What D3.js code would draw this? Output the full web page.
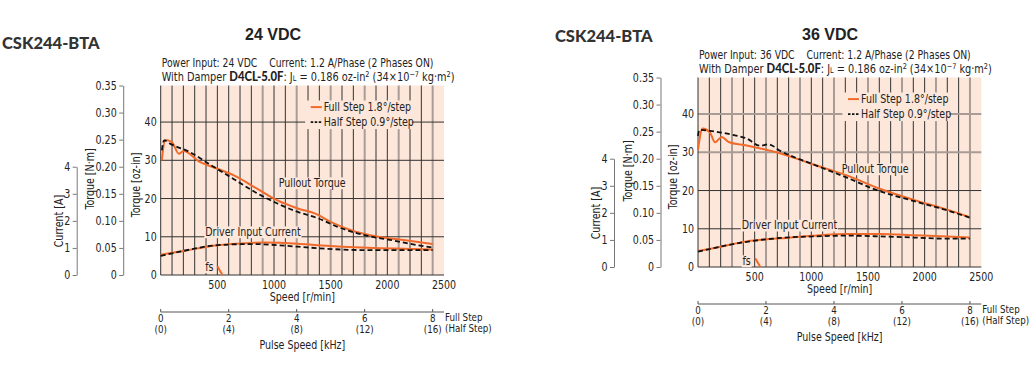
<!DOCTYPE html>
<html>
<head>
<meta charset="utf-8">
<script src="https://cdn.jsdelivr.net/npm/d3@7"></script>
<style>
body { margin: 0; background: #fff; }
svg { display: block; }
</style>
</head>
<body>
<svg id="chart" width="1032" height="375"></svg>
<script>
// ---- data (torque in oz-in, speed in r/min) ----
var speedTicks = [500, 1000, 1500, 2000, 2500];
var ozTicks = [0, 10, 20, 30, 40];
var nmTicks = [0, 0.05, 0.10, 0.15, 0.20, 0.25, 0.30, 0.35];
var ampTicks = [0, 1, 2, 3, 4];
var pulseTicks = [0, 2, 4, 6, 8];
var pulseHalfLabels = ["(0)", "(4)", "(8)", "(12)", "(16)"];

// 24 VDC
var full24Speed  = [10, 40, 100, 160, 200, 350, 500, 650, 850, 1030, 1210, 1360, 1500, 1680, 1920, 2160, 2400];
var full24Torque = [30.0, 35.3, 34.7, 31.7, 32.4, 29.5, 27.8, 26.0, 22.6, 19.5, 17.4, 16.1, 13.9, 11.7, 10.0, 9.1, 8.1];
var half24Speed  = [10, 30, 85, 260, 440, 650, 850, 1030, 1210, 1390, 1560, 1800, 2040, 2270, 2400];
var half24Torque = [32.6, 35.2, 34.3, 32.1, 28.8, 25.0, 21.4, 18.7, 16.5, 14.8, 12.6, 10.4, 9.1, 7.8, 7.2];
var full24CurSpeed = [0, 200, 500, 800, 910, 1210, 1390, 1830, 2400];
var full24Current  = [5.3, 6.3, 7.8, 8.4, 8.5, 8.2, 7.8, 7.1, 6.7];
var half24CurSpeed = [0, 200, 500, 800, 1210, 1390, 1830, 2400];
var half24Current  = [5.0, 6.3, 7.8, 8.1, 7.4, 7.0, 6.5, 6.5];
var fs24Speed = [500, 545];
var fs24Value = [2.3, 0];

// 36 VDC
var full36Speed  = [0, 40, 105, 150, 210, 270, 430, 730, 1020, 1320, 1610, 1910, 2200, 2400];
var full36Torque = [30.6, 36.2, 35.2, 32.6, 34.0, 32.7, 31.8, 29.7, 26.8, 23.9, 20.4, 17.5, 15.0, 13.0];
var half36Speed  = [0, 12, 105, 285, 430, 550, 620, 730, 1020, 1320, 1560, 1910, 2200, 2400];
var half36Torque = [34.3, 35.9, 35.6, 34.7, 33.6, 31.7, 32.1, 30.3, 26.8, 23.3, 20.3, 17.2, 14.8, 12.9];
var full36CurSpeed = [0, 135, 430, 730, 1020, 1320, 1610, 1910, 2200, 2400];
var full36Current  = [4.2, 4.9, 6.7, 7.5, 8.2, 8.6, 8.6, 8.3, 8.0, 7.7];
var half36CurSpeed = [0, 430, 730, 1020, 1320, 1610, 1910, 2200, 2400];
var half36Current  = [4.0, 6.6, 7.6, 8.0, 8.2, 8.0, 7.7, 7.4, 7.4];
var fs36Speed = [505, 550];
var fs36Value = [2.3, 0];

var ozPerNm = 141.612;
var NARROW = "'Liberation Sans Narrow','Arial Narrow','DejaVu Sans Condensed',sans-serif";
var HEAVY = "Lato,'DejaVu Sans',sans-serif";
var ORANGE = "#f06a2c";
var INK = "#222";
var BG = "#fde7da";
var GRAY = "#a99c96";
var SQ = 0.88;   // horizontal squeeze to mimic the condensed face

var svg = d3.select("#chart");

function zip(xs, ys) { return xs.map(function(v, i){ return [v, ys[i]]; }); }

// condensed text placed at (px, py)
function ntext(parent, txt, px, py, size, anchor, rot) {
    return parent.append("text")
        .attr("transform", "translate(" + px + "," + py + ")" + (rot ? " rotate(-90)" : "") + " scale(" + SQ + ",1)")
        .attr("text-anchor", anchor || "start").attr("font-family", NARROW)
        .attr("font-size", size).attr("fill", INK).text(txt);
}

// squeeze a whole text so that it spans the given width
function fitWidth(t, px, py, w) {
    var b = t.node().getBBox();
    t.attr("transform", "translate(" + px + "," + py + ") scale(" + (w / b.width) + ",1)");
}

function drawChart(c) {
    var g = svg.append("g");
    var x = d3.scaleLinear().domain([0, 2500]).range([c.left, c.left + 283.3]);
    var y = d3.scaleLinear().domain([0, 0.35 * ozPerNm]).range([c.zero, c.zero - 189.5]);
    var nm = d3.scaleLinear().domain([0, 0.35]).range(y.range());
    var amp = d3.scaleLinear().domain([0, 4]).range([c.zero, nm(0.2)]);
    var pulse = d3.scaleLinear().domain([0, 8]).range([x(0), x(2400)]);
    var top = y.range()[1];

    // titles
    svg.append("text").attr("x", c.cskX).attr("y", c.cskY)
       .attr("font-family", HEAVY).attr("font-weight", 900).attr("font-size", 16.5)
       .attr("fill", "#333").text("CSK244-BTA");
    svg.append("text").attr("x", c.titleX).attr("y", 40)
       .attr("font-family", "'Liberation Sans',Arial,sans-serif").attr("font-weight", "bold")
       .attr("font-size", 16).attr("fill", INK).text(c.volt);

    // header
    var h1 = g.append("text").attr("font-family", NARROW).attr("font-size", 12).attr("fill", INK);
    h1.append("tspan").text("Power Input: " + c.volt);
    h1.append("tspan").attr("dx", 14).text("Current: 1.2 A/Phase (2 Phases ON)");
    fitWidth(h1, c.left + 1, top - 18.5, 272);
    var h2 = g.append("text").attr("font-family", NARROW).attr("font-size", 12).attr("fill", INK);
    h2.append("tspan").text("With Damper ");
    h2.append("tspan").attr("font-family", HEAVY).attr("font-weight", 900).attr("font-size", 12.5)
      .text("D4CL-5.0F");
    h2.append("tspan").text(": J");
    h2.append("tspan").attr("font-size", 8).text("L");
    h2.append("tspan").text(" = 0.186 oz-in");
    h2.append("tspan").attr("font-size", 8).attr("dy", -4.5).text("2");
    h2.append("tspan").attr("dy", 4.5).text(" (34\u00d710");
    h2.append("tspan").attr("font-size", 8).attr("dy", -4.5).text("\u22127");
    h2.append("tspan").attr("dy", 4.5).text(" kg\u00b7m");
    h2.append("tspan").attr("font-size", 8).attr("dy", -4.5).text("2");
    h2.append("tspan").attr("dy", 4.5).text(")");
    fitWidth(h2, c.left + 1, top - 4.5, 293);

    // plot background + grid
    g.append("rect").attr("x", x(0)).attr("y", top)
     .attr("width", x(2500) - x(0)).attr("height", c.zero - top).attr("fill", BG);
    var vgrid = d3.range(100, 2500, 100);
    function isGray(d) { return d % 300 === 0 && d >= c.grayFrom; }
    g.selectAll(".vg").data(vgrid).enter().append("line")
     .attr("x1", function(d){ return x(d); }).attr("x2", function(d){ return x(d); })
     .attr("y1", top).attr("y2", c.zero)
     .attr("stroke", function(d){ return isGray(d) ? GRAY : "#333"; })
     .attr("stroke-width", function(d){ return isGray(d) ? 2 : 1; });
    g.selectAll(".hg").data(ozTicks.slice(1)).enter().append("line")
     .attr("x1", x(0)).attr("x2", x(2500))
     .attr("y1", function(d){ return y(d); }).attr("y2", function(d){ return y(d); })
     .attr("stroke", function(d){ return c.grayOz.indexOf(d) >= 0 ? GRAY : "#333"; })
     .attr("stroke-width", function(d){ return c.grayOz.indexOf(d) >= 0 ? 2 : 1; });
    g.append("line").attr("x1", x(0)).attr("x2", x(0)).attr("y1", top).attr("y2", c.zero)
     .attr("stroke", "#333");
    g.append("line").attr("x1", x(0)).attr("x2", x(2500)).attr("y1", c.zero).attr("y2", c.zero)
     .attr("stroke", "#333");

    // legend (masks the grid)
    var lg = g.append("g");
    lg.append("rect").attr("x", c.left + 144.5).attr("y", top + 15)
      .attr("width", 106.5).attr("height", 28.6).attr("fill", BG);
    lg.append("line").attr("x1", c.left + 150).attr("x2", c.left + 161)
      .attr("y1", top + 21.6).attr("y2", top + 21.6).attr("stroke", ORANGE).attr("stroke-width", 2);
    lg.append("line").attr("x1", c.left + 150).attr("x2", c.left + 161)
      .attr("y1", top + 36.6).attr("y2", top + 36.6).attr("stroke", "#111")
      .attr("stroke-width", 1.6).attr("stroke-dasharray", "2.5,1.5");
    ntext(lg, "Full Step 1.8\u00b0/step", c.left + 163, top + 25.8, 12);
    ntext(lg, "Half Step 0.9\u00b0/step", c.left + 163, top + 40.8, 12);

    // labels with masked background
    function note(txt, px, py) {
        var ng = g.append("g").attr("transform", "translate(" + px + "," + py + ") scale(" + SQ + ",1)");
        var t = ng.append("text").attr("font-family", NARROW).attr("font-size", 12)
            .attr("fill", INK).text(txt);
        var b = t.node().getBBox();
        ng.insert("rect", "text")
          .attr("x", b.x - 1).attr("y", b.y + 1).attr("width", b.width + 2).attr("height", b.height - 2)
          .attr("fill", BG);
    }
    note("Pullout Torque", c.left + c.pullX, c.zero - c.pullY);
    note("Driver Input Current", c.left + c.curX, c.zero - c.curY);
    note("fs", c.left + 44.5, c.zero - c.fsY);

    // curves
    var line = d3.line().x(function(d){ return x(d[0]); }).y(function(d){ return y(d[1]); })
        .curve(d3.curveMonotoneX);
    var straight = d3.line().x(function(d){ return x(d[0]); }).y(function(d){ return y(d[1]); });
    c.series.forEach(function(s) {
        g.append("path").datum(zip(s[0], s[1]))
         .attr("d", s[2] === "fs" ? straight : line)
         .attr("fill", "none")
         .attr("stroke", s[2] === "half" ? "#111" : ORANGE)
         .attr("stroke-width", s[2] === "half" ? 1.8 : 2)
         .attr("stroke-dasharray", s[2] === "half" ? "5,3" : null);
    });

    // oz-in labels
    ozTicks.forEach(function(d) { ntext(g, d, c.left - 4, y(d) + 4, 12, "end"); });
    // speed labels
    speedTicks.forEach(function(d) { ntext(g, d, x(d), c.zero + 13.5, 12, "middle"); });
    ntext(g, "Speed [r/min]", (x(0) + x(2500)) / 2, c.zero + 25.5, 12, "middle");

    // N.m and A axes
    var nmAxis = g.append("g").attr("transform", "translate(" + (c.left - 37.5) + ",0)")
     .call(d3.axisLeft(nm).tickValues(nmTicks).tickSize(4).tickSizeOuter(0).tickPadding(2)
        .tickFormat(function(d){ return d === 0 ? "0" : d3.format(".2f")(d); }));
    var ampAxis = g.append("g").attr("transform", "translate(" + (c.left - 84) + ",0)")
     .call(d3.axisLeft(amp).tickValues(ampTicks).tickSize(4).tickSizeOuter(0).tickPadding(3)
        .tickFormat(d3.format("d")));
    [nmAxis, ampAxis].forEach(function(a) {
        a.selectAll("path, line").attr("stroke", "#777");
        a.selectAll("text").attr("font-family", NARROW).attr("font-size", 12).attr("fill", INK)
         .attr("transform", "scale(" + SQ + ",1)")
         .attr("x", -6.5 / SQ);
    });

    ntext(g, "Current [A]", c.left - 98, c.zero - 54, 12, "middle", true);
    ntext(g, "Torque [N\u00b7m]", c.left - 66.5, c.zero - 96, 12, "middle", true);
    ntext(g, "Torque [oz-in]", c.left - 21, c.zero - 90, 12, "middle", true);

    // pulse speed axis
    var py0 = c.zero + 37;
    g.append("line").attr("x1", x(0)).attr("x2", x(2500)).attr("y1", py0).attr("y2", py0)
     .attr("stroke", "#555");
    pulseTicks.forEach(function(d, i) {
        g.append("line").attr("x1", pulse(d)).attr("x2", pulse(d))
         .attr("y1", py0 - 3).attr("y2", py0).attr("stroke", "#555");
        ntext(g, d, pulse(d), py0 + 10, 11, "middle");
        ntext(g, pulseHalfLabels[i], pulse(d), py0 + 21, 11, "middle");
    });
    ntext(g, "Full Step", x(2500) + 1, py0 + 9, 11);
    ntext(g, "(Half Step)", x(2500) + 1, py0 + 20, 11);
    ntext(g, "Pulse Speed [kHz]", (x(0) + x(2500)) / 2, py0 + 37, 12, "middle");
}

drawChart({
    volt: "24 VDC", left: 160.7, zero: 275, cskX: 2, cskY: 48.5, titleX: 245,
    grayFrom: 900, grayOz: [],
    pullX: 118, pullY: 88, curX: 44.5, curY: 39, fsY: 4,
    series: [
        [full24Speed, full24Torque, "full"],
        [half24Speed, half24Torque, "half"],
        [full24CurSpeed, full24Current, "full"],
        [half24CurSpeed, half24Current, "half"],
        [fs24Speed, fs24Value, "fs"]
    ]
});
drawChart({
    volt: "36 VDC", left: 698, zero: 267, cskX: 555, cskY: 41.5, titleX: 802,
    grayFrom: 300, grayOz: [30, 40],
    pullX: 143.7, pullY: 94, curX: 43.7, curY: 37.7, fsY: 2,
    series: [
        [full36Speed, full36Torque, "full"],
        [half36Speed, half36Torque, "half"],
        [full36CurSpeed, full36Current, "full"],
        [half36CurSpeed, half36Current, "half"],
        [fs36Speed, fs36Value, "fs"]
    ]
});
</script>
</body>
</html>
